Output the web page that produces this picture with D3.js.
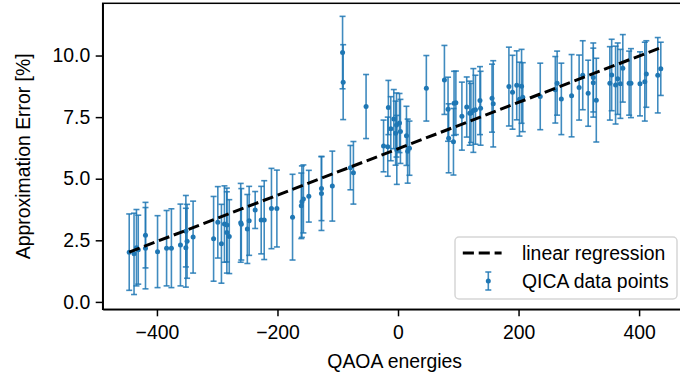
<!DOCTYPE html>
<html>
<head>
<meta charset="utf-8">
<script src="https://cdn.jsdelivr.net/npm/d3@7"></script>
<style>
  body { margin: 0; background: #fff; }
  svg { display: block; }
  text { font-family: "Liberation Sans", Arial, sans-serif; fill: #000; }
  .axis path, .axis line { stroke: #000; stroke-width: 1.5px; }
  .axis text { font-family: "Liberation Sans", Arial, sans-serif; font-size: 19.4px; fill: #000; }
</style>
</head>
<body>
<svg id="chart"></svg>
<script>
// QAOA energy of each instance
const energies = [
  -446, -438, -434, -431, -419, -419, -399, -384, -376, -361,
  -352, -352, -350, -340, -306, -299, -293, -288, -284, -284,
  -280, -261, -260, -250, -247, -237, -227, -222, -210, -201,
  -175, -160.5, -159.5, -157, -148, -127, -127, -109, -92, -91,
  -79, -74, -53, -24, -17, -16, -12, -7, -4, -2.5,
  -2, 2.5, 4, 14, 16, 19, 47, 77, 83, 84,
  92, 93, 96, 106, 114, 119, 121, 125, 128.5, 136,
  137, 156, 158, 184, 190, 197, 201.5, 205, 207, 236,
  261, 264, 271, 288, 300.5, 306.5, 315.5, 324, 324, 329,
  351.5, 354.5, 361, 364.5, 369, 373, 383.5, 386.5, 401.5, 409.5,
  412, 431, 436
];
// approximation error [%] (QICA)
const approxErrors = [
  2.02, 1.95, 2.2, 2.12, 2.71, 2.18, 2.04, 2.18, 2.18, 2.31,
  2.87, 2.2, 2.46, 2.63, 2.56, 3.23, 2.36, 3.16, 3.12, 2.82,
  2.65, 3.21, 3.15, 2.96, 3.29, 3.73, 3.32, 3.32, 3.79, 3.79,
  3.44, 3.9, 4.07, 4.18, 4.29, 4.6, 4.4, 4.7, 10.12, 8.92,
  5.45, 5.24, 7.93, 6.33, 6.3, 7.89, 7.03, 7.42, 6.85, 7.18,
  6.17, 7.26, 6.92, 6.74, 6.12, 6.24, 8.67, 9.01, 7.82, 6.64,
  6.5, 8.06, 8.08, 7.54, 7.91, 7.66, 7.67, 7.77, 7.8, 8.17,
  7.86, 8.27, 8.04, 8.74, 8.51, 8.79, 8.23, 8.75, 8.31, 8.34,
  8.61, 8.88, 8.24, 8.37, 8.7, 9.2, 8.47, 9.11, 8.9, 8.19,
  8.87, 9.21, 8.8, 9.06, 8.85, 9.48, 8.88, 8.88, 8.85, 8.94,
  9.25, 9.2, 9.46
];
// half length of each error bar
const errorBars = [
  1.55, 1.65, 1.55, 1.4, 1.33, 1.65, 1.46, 1.53, 1.6, 1.66,
  1.45, 1.6, 1.5, 1.46, 1.72, 1.45, 1.6, 1.55, 1.5, 1.65,
  1.5, 1.6, 1.45, 1.4, 1.4, 0.75, 1.37, 1.6, 1.63, 1.56,
  1.74, 1.33, 1.45, 1.38, 1.05, 1.3, 1.5, 1.42, 1.47, 1.52,
  0.9, 1.27, 1.3, 1.05, 1.2, 1.1, 1.3, 1.2, 1.3, 1.3,
  1.4, 1.2, 1.3, 1.2, 1.3, 1.1, 1.33, 1.4, 1.3, 1.4,
  1.35, 1.3, 1.29, 1.38, 1.22, 1.3, 1.2, 1.7, 1.4, 1.38,
  1.5, 1.38, 1.75, 1.6, 1.5, 1.4, 1.5, 1.5, 1.4, 1.35,
  1.35, 1.3, 1.45, 1.67, 1.32, 1.4, 1.34, 1.4, 1.4, 1.7,
  1.49, 1.45, 1.58, 1.45, 1.4, 1.37, 1.3, 1.4, 1.3, 1.6,
  1.35, 1.53, 1.08
];
// end points of the fitted line
const regressionX = [-446, 436];
const regressionY = [2.02, 10.32];

const xTicks = [-400, -200, 0, 200, 400];
const yTicks = [0, 2.5, 5, 7.5, 10];

const width = 680, height = 379;
const margin = { top: 3.3, right: -6.7, bottom: 69.7, left: 102.7 };
const innerW = width - margin.left - margin.right;
const innerH = height - margin.top - margin.bottom;
const blue = '#1f77b4';
const fontSize = '19.4px';

const data = energies.map((e, i) => ({ x: e, y: approxErrors[i], err: errorBars[i] }));

const svg = d3.select('#chart')
  .attr('width', width)
  .attr('height', height);

const chart = svg.append('g')
  .attr('transform', `translate(${margin.left},${margin.top})`);

const xScale = d3.scaleLinear().domain([-490, 479]).range([0, innerW]);
const yScale = d3.scaleLinear().domain([-0.3, 12.12]).range([innerH, 0]);

// error bars
const bars = chart.append('g').selectAll('g')
  .data(data)
  .join('g')
  .attr('stroke', blue)
  .attr('stroke-opacity', 0.85)
  .attr('stroke-width', 1.6);

bars.append('line')
  .attr('x1', d => xScale(d.x)).attr('x2', d => xScale(d.x))
  .attr('y1', d => yScale(d.y - d.err)).attr('y2', d => yScale(d.y + d.err));

bars.append('line')
  .attr('x1', d => xScale(d.x) - 3).attr('x2', d => xScale(d.x) + 3)
  .attr('y1', d => yScale(d.y + d.err)).attr('y2', d => yScale(d.y + d.err));

bars.append('line')
  .attr('x1', d => xScale(d.x) - 3).attr('x2', d => xScale(d.x) + 3)
  .attr('y1', d => yScale(d.y - d.err)).attr('y2', d => yScale(d.y - d.err));

chart.append('g').selectAll('circle')
  .data(data)
  .join('circle')
  .attr('cx', d => xScale(d.x))
  .attr('cy', d => yScale(d.y))
  .attr('r', 2.5)
  .attr('fill', blue);

// regression line
chart.append('path')
  .datum(regressionX.map((x, i) => [x, regressionY[i]]))
  .attr('d', d3.line().x(d => xScale(d[0])).y(d => yScale(d[1])))
  .attr('fill', 'none')
  .attr('stroke', '#000')
  .attr('stroke-width', 3)
  .attr('stroke-dasharray', '11.1,4.8');

// axes
const xAxis = d3.axisBottom(xScale)
  .tickValues(xTicks)
  .tickSize(7).tickPadding(9).tickSizeOuter(0)
  .tickFormat(d => d3.format('')(d).replace('-', '\u2212'));
const yAxis = d3.axisLeft(yScale)
  .tickValues(yTicks)
  .tickSize(7).tickPadding(5.5).tickSizeOuter(0)
  .tickFormat(d3.format('.1f'));

chart.append('g').attr('class', 'axis')
  .attr('transform', `translate(0,${innerH})`)
  .call(xAxis);
chart.append('g').attr('class', 'axis')
  .call(yAxis);

// frame
chart.append('rect')
  .attr('width', innerW).attr('height', innerH)
  .attr('fill', 'none').attr('stroke', '#000').attr('stroke-width', 1.5);

// axis labels
svg.append('text')
  .attr('x', margin.left + innerW / 2)
  .attr('y', 368)
  .attr('text-anchor', 'middle')
  .style('font-size', fontSize)
  .text('QAOA energies');

svg.append('text')
  .attr('transform', `translate(30,${margin.top + innerH / 2}) rotate(-90)`)
  .attr('text-anchor', 'middle')
  .style('font-size', fontSize)
  .text('Approximation Error [%]');

// legend
const legend = svg.append('g').attr('transform', 'translate(455,237)');
legend.append('rect')
  .attr('width', 222).attr('height', 62)
  .attr('rx', 4)
  .attr('fill', '#fff').attr('fill-opacity', 0.8)
  .attr('stroke', '#d6d6d6').attr('stroke-width', 1.5);

legend.append('line')
  .attr('x1', 7.8).attr('x2', 46.6).attr('y1', 16).attr('y2', 16)
  .attr('stroke', '#000').attr('stroke-width', 3)
  .attr('stroke-dasharray', '11.1,4.8');

const lg = legend.append('g').attr('stroke', blue).attr('stroke-opacity', 0.85).attr('stroke-width', 1.6);
lg.append('line').attr('x1', 33.3).attr('x2', 33.3).attr('y1', 35).attr('y2', 53);
lg.append('line').attr('x1', 30.3).attr('x2', 36.3).attr('y1', 35).attr('y2', 35);
lg.append('line').attr('x1', 30.3).attr('x2', 36.3).attr('y1', 53).attr('y2', 53);
legend.append('circle').attr('cx', 33.3).attr('cy', 44).attr('r', 2.5).attr('fill', blue);

legend.append('text').attr('x', 67).attr('y', 23).style('font-size', fontSize).text('linear regression');
legend.append('text').attr('x', 67).attr('y', 50.5).style('font-size', fontSize).text('QICA data points');
</script>
</body>
</html>
